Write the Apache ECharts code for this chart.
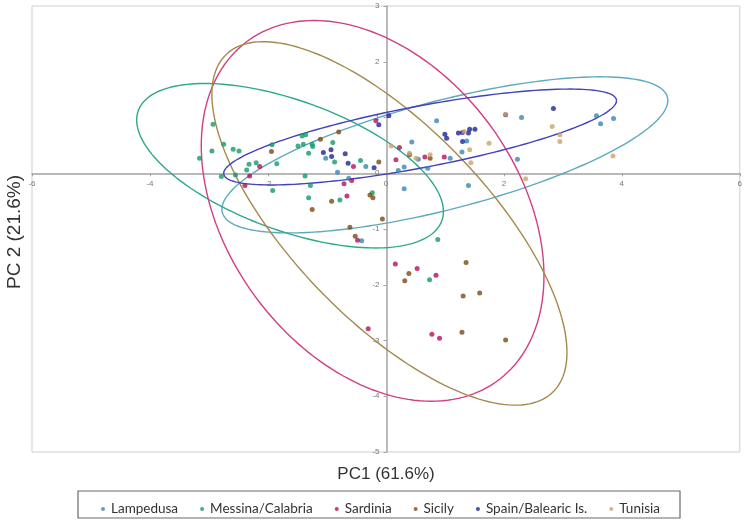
<!DOCTYPE html>
<html>
<head>
<meta charset="utf-8">
<script src="https://cdn.jsdelivr.net/npm/echarts@6/dist/echarts.min.js"></script>
<style>
  html, body { margin: 0; padding: 0; background: #fff; }
  #c { width: 745px; height: 522px; }
</style>
</head>
<body>
<div id="c"></div>
<script>
// ---------- data (PC1, PC2) ----------
const groups = ["Lampedusa", "Messina/Calabria", "Sardinia", "Sicily", "Spain/Balearic Is.", "Tunisia"];
const dotColors = ["#3a86b0", "#139b69", "#b0115c", "#7a4a12", "#1c2592", "#c9a46c"];
const ringColors = ["#5eaabd", "#2da88b", "#d23e82", "#a48a4c", "#4242ba", null];

const lampedusa = [
  [-1.02, 0.27], [-0.34, 0.12], [-0.82, 0.02], [-0.63, -0.09], [-0.41, -1.21],
  [0.86, 0.94], [1.37, 0.58], [1.29, 0.38], [0.44, 0.56], [0.55, 0.25],
  [1.09, 0.27], [0.21, 0.05], [0.31, 0.11], [0.71, 0.09], [0.31, -0.28],
  [1.40, -0.22], [2.30, 1.00], [3.57, 1.03], [3.64, 0.89], [3.86, 0.98], [2.23, 0.25]
];
const messina = [
  [-2.93, 0.88], [-2.75, 0.52], [-2.95, 0.40], [-2.59, 0.43], [-2.49, 0.40],
  [-3.16, 0.27], [-1.93, 0.51], [-1.85, 0.17], [-2.32, 0.16], [-2.20, 0.19],
  [-2.36, 0.06], [-2.55, -0.03], [-2.79, -0.06], [-1.92, -0.31], [-1.36, 0.69],
  [-1.42, 0.67], [-1.49, 0.49], [-1.40, 0.52], [-1.25, 0.52], [-1.24, 0.48],
  [-0.90, 0.55], [-1.31, 0.36], [-0.87, 0.20], [-0.43, 0.23], [-1.37, -0.05],
  [-1.28, -0.22], [-1.31, -0.44], [-0.78, -0.48], [-0.23, -0.35], [0.88, -1.19], [0.74, -1.91]
];
const sardinia = [
  [-2.14, 0.12], [-2.31, -0.05], [-2.39, -0.22], [-0.17, 0.94], [-0.55, 0.12],
  [0.17, 0.24], [-0.58, -0.13], [-0.71, -0.19], [-0.66, -0.41], [-0.48, -1.20],
  [0.23, 0.46], [0.66, 0.29], [0.99, 0.29], [0.16, -1.63], [0.53, -1.71],
  [0.85, -1.83], [-0.30, -2.79], [0.78, -2.89], [0.91, -2.96]
];
const sicily = [
  [-1.94, 0.39], [-0.80, 0.74], [-1.11, 0.61], [-0.12, 0.20], [-0.92, -0.50],
  [-0.27, -0.39], [-0.22, -0.44], [-1.25, -0.65], [-0.06, -0.82], [-0.61, -0.97],
  [-0.52, -1.13], [0.40, 0.33], [0.75, 0.27], [0.39, -1.80], [0.32, -1.93],
  [1.36, -1.60], [1.31, -2.20], [1.59, -2.15], [1.29, -2.85], [2.03, -2.99]
];
const spain = [
  [0.05, 1.03], [-0.12, 0.87], [-1.06, 0.37], [-0.93, 0.42], [-0.69, 0.35],
  [-0.92, 0.30], [-0.64, 0.18], [-0.20, 0.10], [1.00, 0.70], [1.03, 0.63],
  [1.23, 0.72], [1.30, 0.73], [1.40, 0.72], [1.42, 0.79], [1.51, 0.79],
  [1.30, 0.57], [2.03, 1.05], [2.84, 1.16]
];
const tunisia = [
  [0.09, 0.49], [0.40, 0.36], [0.51, 0.27], [0.75, 0.33], [1.33, 0.75],
  [1.42, 0.42], [1.75, 0.54], [1.44, 0.19], [2.03, 1.06], [2.82, 0.84],
  [2.95, 0.69], [2.95, 0.57], [3.85, 0.31], [2.37, -0.10]
];
const points = [lampedusa, messina, sardinia, sicily, spain, tunisia];

// confidence ellipses: [centre x, half width x, centre y, half height y, phase]
const ellipses = [
  [1.00, 3.78, 0.33, 1.40, 0.80],      // Lampedusa
  [-1.625, 2.60, 0.135, 1.475, 2.16],  // Messina/Calabria
  [-0.225, 2.905, -0.675, 3.415, 1.92], // Sardinia
  [0.06, 3.01, -0.90, 3.26, 2.36],     // Sicily
  [0.58, 3.33, 0.65, 0.86, 0.71]       // Spain/Balearic Is.
];

const xTicks = { min: -6, max: 6, step: 2 };
const yTicks = { min: -5, max: 3, step: 1 };

// grid box in pixels; axes cross at (0,0) so they are shifted in by offset
const G = { left: 32, right: 4, top: 6, bottom: 70 };
const plotW = 745 - G.left - G.right;
const plotH = 522 - G.top - G.bottom;
const xShift = plotW * (0 - xTicks.min) / (xTicks.max - xTicks.min);
const yShift = plotH * (0 - yTicks.min) / (yTicks.max - yTicks.min);

// ---------- chart ----------
const chart = echarts.init(document.getElementById("c"), null, { renderer: "canvas" });

function ringSeries(e, color) {
  return {
    type: "custom",
    silent: true,
    z: 1,
    data: [[e[0], e[2]]],
    renderItem: function (params, api) {
      const pts = [];
      for (let i = 0; i <= 180; i++) {
        const t = (i / 180) * Math.PI * 2;
        pts.push(api.coord([e[0] + e[1] * Math.cos(t), e[2] + e[3] * Math.cos(t - e[4])]));
      }
      return { type: "polyline", shape: { points: pts }, style: { stroke: color, lineWidth: 1.4, fill: null } };
    }
  };
}

const series = [];
ellipses.forEach((e, i) => series.push(ringSeries(e, ringColors[i])));
groups.forEach((g, i) => series.push({
  name: g,
  type: "scatter",
  z: 3,
  symbolSize: 5,
  itemStyle: { color: dotColors[i] },
  data: points[i]
}));

const axisCommon = {
  axisLine: { onZero: false, lineStyle: { color: "#a3a3a3", width: 1.5 } },
  axisTick: { show: true, length: 3, lineStyle: { color: "#a3a3a3" } },
  axisLabel: { fontSize: 8, color: "#777", fontFamily: "Liberation Sans", margin: 7 },
  splitLine: { show: false }
};

chart.setOption({
  animation: false,
  backgroundColor: "#fff",
  grid: Object.assign({ show: true, borderColor: "#cfcfcf", borderWidth: 1 }, G),
  xAxis: Object.assign({ type: "value", position: "bottom", offset: -yShift, min: xTicks.min, max: xTicks.max, interval: xTicks.step }, axisCommon),
  yAxis: Object.assign({ type: "value", position: "left", offset: -xShift, min: yTicks.min, max: yTicks.max, interval: yTicks.step }, axisCommon),
  legend: {
    data: groups,
    left: 96,
    top: 497,
    icon: "circle",
    itemWidth: 4,
    itemHeight: 4,
    itemGap: 22,
    textStyle: { fontFamily: "Lato", fontSize: 13.5, color: "#333", padding: [0, 0, 0, 1] }
  },
  graphic: [
    { type: "rect", shape: { x: 78, y: 491, width: 602, height: 27 }, style: { fill: null, stroke: "#6a6a6a", lineWidth: 1.2 }, z: -1 },
    { type: "text", x: 386, y: 474, style: { text: "PC1 (61.6%)", font: "17px Liberation Sans", fill: "#333", align: "center", verticalAlign: "middle" } },
    { type: "text", x: 15, y: 232, rotation: Math.PI / 2, style: { text: "PC 2 (21.6%)", font: "19px Liberation Sans", fill: "#333", align: "center", verticalAlign: "middle" } }
  ],
  series: series
});
</script>
</body>
</html>
